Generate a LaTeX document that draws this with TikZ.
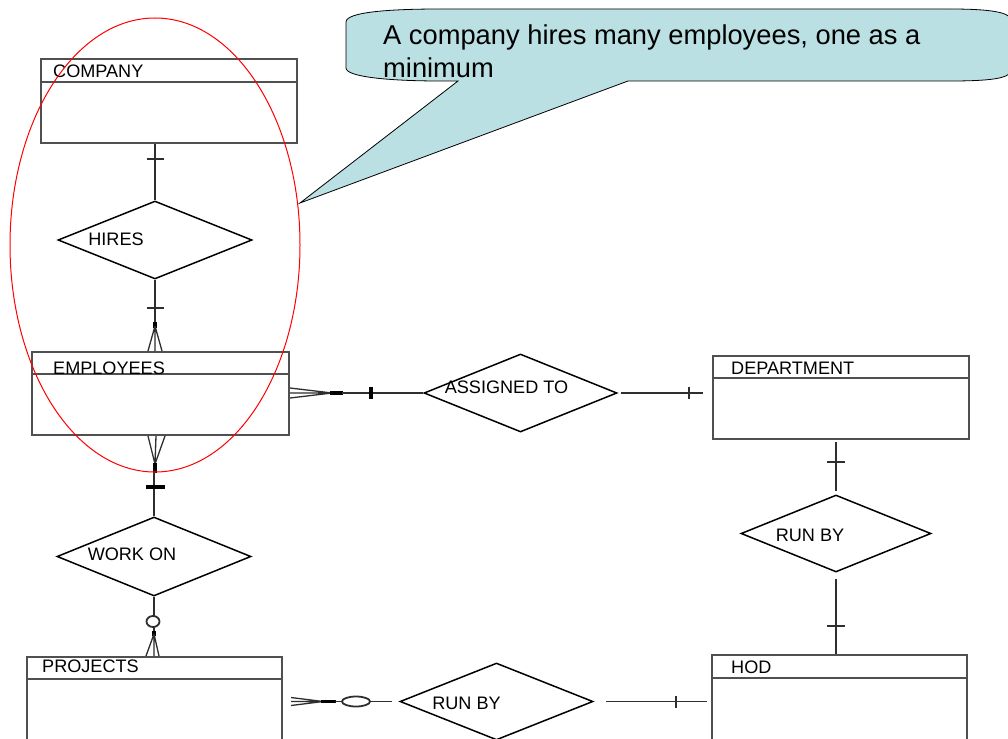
\documentclass[tikz,border=0pt]{standalone}
\usepackage{fontspec}
\setmainfont{Liberation Sans}
\usepackage{xcolor}
\definecolor{cLine}{HTML}{2E2E2E}
\definecolor{cBox}{HTML}{505050}
\definecolor{cNote}{HTML}{BBE0E3}
\definecolor{cRing}{HTML}{FF0000}
\usepackage{tikz}
\usetikzlibrary{positioning,calc,shapes.geometric}
\tikzset{
  node-entity/.style={draw=cBox,line width=2pt,anchor=north west,inner sep=0pt,
    minimum width=256pt,minimum height=84pt},
  node-title/.style={anchor=base west,inner sep=0pt,font=\fontsize{18.1}{21}\selectfont},
  node-rel/.style={draw=black,line width=1.5pt,diamond,inner sep=0pt,
    minimum width=194pt,minimum height=78pt},
  rel-label/.style={inner sep=0pt,font=\fontsize{18.1}{21}\selectfont},
  note-text/.style={anchor=north west,align=left,inner sep=0pt,
    font=\fontsize{27.3}{33}\selectfont},
  header/.style={draw=cBox,line width=1.5pt},
  link/.style={draw=cLine,line width=1.8pt},
  link-bar/.style={draw=black,line width=3.2pt},
  link-tick/.style={draw=cLine,line width=1.5pt},
  crow/.style={draw=cLine,line width=1.3pt},
  ring/.style={draw=cRing,line width=1pt},
  note/.style={draw=black,line width=0.8pt,fill=cNote},
}

\begin{document}
\begin{tikzpicture}[x=1pt,y=-1pt]
  \fill[white] (0,0) rectangle (1008,738);
  \path[use as bounding box,clip] (0,0) rectangle (1008,738);

  % entities
  \node[node-entity] (comp) at (40,58) {};
  \draw[header] ([yshift=-24pt]comp.north west) -- ([yshift=-24pt]comp.north east);
  \node[node-title] (compT) at (53,78) {COMPANY};
  \node[node-entity,minimum width=257pt,minimum height=83pt] (emp) at (31,351) {};
  \draw[header] ([yshift=-23pt]emp.north west) -- ([yshift=-23pt]emp.north east);
  \node[node-title] (empT) at (53,374) {EMPLOYEES};
  \node[node-entity,minimum width=255pt,minimum height=100pt] (proj) at (26,656) {};
  \draw[header] ([yshift=-23pt]proj.north west) -- ([yshift=-23pt]proj.north east);
  \node[node-title] (projT) at (42,672) {PROJECTS};
  \node[node-entity,minimum height=83pt] (dept) at (712,355) {};
  \draw[header] ([yshift=-23pt]dept.north west) -- ([yshift=-23pt]dept.north east);
  \node[node-title] (deptT) at (731,374) {DEPARTMENT};
  \node[node-entity,minimum width=255pt,minimum height=100pt] (hod) at (711,654) {};
  \draw[header] ([yshift=-24pt]hod.north west) -- ([yshift=-24pt]hod.north east);
  \node[node-title] (hodT) at (731,673) {HOD};

  % relationships
  \node[node-rel,label={[rel-label,xshift=-39pt,yshift=1pt]center:HIRES}] (hires) at (155,240) {};
  \node[node-rel,minimum width=193pt,label={[rel-label,xshift=-14pt,yshift=5.5pt]center:ASSIGNED TO}] (assign) at (520.5,393) {};
  \node[node-rel,minimum height=79pt,label={[rel-label,xshift=-22pt,yshift=2pt]center:WORK ON}] (work) at (154,556.5) {};
  \node[node-rel,minimum width=190pt,minimum height=77pt,label={[rel-label,xshift=-26pt,yshift=-2.3pt]center:RUN BY}] (runA) at (836,533.5) {};
  \node[node-rel,minimum width=193pt,minimum height=77pt,label={[rel-label,xshift=-30pt,yshift=-2pt]center:RUN BY}] (runB) at (496.5,701.5) {};

  % COMPANY -- HIRES
  \coordinate (c1) at (hires.north |- comp.south);
  \draw[link] (c1) -- (hires.north);
  \draw[link-tick] ([shift={(-8,15)}]c1) -- ++(17,0);

  % HIRES -- EMPLOYEES
  \coordinate (e1) at (hires.south |- emp.north);
  \draw[link] (hires.south) -- ([shift={(0,-24)}]e1);
  \draw[link-tick] ([shift={(-8,-43)}]e1) -- ++(17,0);
  \draw[link-bar] ([shift={(0,-29)}]e1) -- ([shift={(0,-23)}]e1);
  \draw[crow] ([shift={(0,-25)}]e1) -- ([shift={(-7,0)}]e1)
              ([shift={(0,-25)}]e1) -- (e1)
              ([shift={(0,-25)}]e1) -- ([shift={(7,0)}]e1);

  % EMPLOYEES -- WORK ON
  \coordinate (e2) at (work.north |- emp.south);
  \draw[crow] ([shift={(1,28)}]e2) -- ([shift={(-6,0)}]e2)
              ([shift={(1,28)}]e2) -- ([shift={(2,0)}]e2)
              ([shift={(1,28)}]e2) -- ([shift={(11,0)}]e2);
  \draw[link-bar] ([shift={(1,27)}]e2) -- ([shift={(1,37)}]e2);
  \draw[link] ([shift={(0,36)}]e2) -- (work.north);
  \draw[link-bar] ([shift={(-8,51)}]e2) -- ++(19,0);

  % WORK ON -- PROJECTS
  \coordinate (e3) at (work.south |- proj.north);
  \draw[link] (work.south) -- ([shift={(0,-40)}]e3);
  \draw[link,fill=white] ([shift={(-1,-34.5)}]e3) ellipse [x radius=6.5pt,y radius=5.5pt];
  \draw[link] ([shift={(0,-29)}]e3) -- ([shift={(0,-24)}]e3);
  \draw[link-bar] ([shift={(0,-25)}]e3) -- ([shift={(0,-20)}]e3);
  \draw[crow] ([shift={(0,-22)}]e3) -- ([shift={(-8,0)}]e3)
              ([shift={(0,-22)}]e3) -- (e3)
              ([shift={(0,-22)}]e3) -- ([shift={(5,0)}]e3);

  % EMPLOYEES -- ASSIGNED TO
  \coordinate (e4) at (assign.west -| emp.east);
  \draw[crow] ([shift={(42,0)}]e4) -- ([shift={(0,-5)}]e4)
              ([shift={(42,0)}]e4) -- (e4)
              ([shift={(42,0)}]e4) -- ([shift={(0,5)}]e4);
  \draw[link-bar] ([shift={(40,0)}]e4) -- ([shift={(53,0)}]e4);
  \draw[link] ([shift={(52,0)}]e4) -- (assign.west);
  \draw[link-bar,line width=3.5pt] ([shift={(81,-6)}]e4) -- ++(0,12);

  % ASSIGNED TO -- DEPARTMENT
  \coordinate (e5) at (assign.east -| dept.west);
  \draw[link,shorten <=3pt,shorten >=9pt] (assign.east) -- (e5);
  \draw[link-tick] ([shift={(-23,-6)}]e5) -- ++(0,12);

  % DEPARTMENT -- RUN BY
  \coordinate (e6) at (runA.north |- dept.south);
  \draw[link,shorten >=3pt] ([shift={(0,2)}]e6) -- (runA.north);
  \draw[link-tick] ([shift={(-9,22)}]e6) -- ++(18,0);

  % RUN BY -- HOD
  \coordinate (e7) at (runA.south |- hod.north);
  \draw[link,shorten <=6pt] (runA.south) -- (e7);
  \draw[link-tick] ([shift={(-9,-28)}]e7) -- ++(18,0);

  % PROJECTS -- RUN BY
  \coordinate (e8) at (runB.west -| proj.east);
  \draw[crow] ([shift={(40,0)}]e8) -- ([shift={(8,-4)}]e8)
              ([shift={(40,0)}]e8) -- ([shift={(8,0)}]e8)
              ([shift={(40,0)}]e8) -- ([shift={(8,4)}]e8);
  \draw[link-bar] ([shift={(38,0)}]e8) -- ([shift={(53,0)}]e8);
  \draw[link] ([shift={(52,0)}]e8) -- ([shift={(59,0)}]e8);
  \draw[link,fill=white] ([shift={(73,0)}]e8) ellipse [x radius=14pt,y radius=5pt];
  \draw[link,shorten >=7pt] ([shift={(87,0)}]e8) -- (runB.west);

  % RUN BY -- HOD
  \coordinate (e9) at (runB.east -| hod.west);
  \draw[link,shorten <=12pt,shorten >=4pt] (runB.east) -- (e9);
  \draw[link-tick] ([shift={(-35,-6)}]e9) -- ++(0,12);

  % ring and callout
  \draw[ring] (155,245) ellipse [x radius=145pt,y radius=227pt];
  \draw[note] (346,22) .. controls (346,12) and (390,9) .. (440,9) -- (950,9)
    .. controls (1000,9) and (1012,14) .. (1012,22) -- (1012,68)
    .. controls (1012,77) and (1000,81) .. (950,81) -- (628,81) -- (300,203)
    -- (458,81) -- (440,81) .. controls (390,81) and (346,77) .. (346,68) -- cycle;
  \node[note-text] (noteT) at (383,25) {A company hires many employees, one as a\\minimum};
\end{tikzpicture}
\end{document}
